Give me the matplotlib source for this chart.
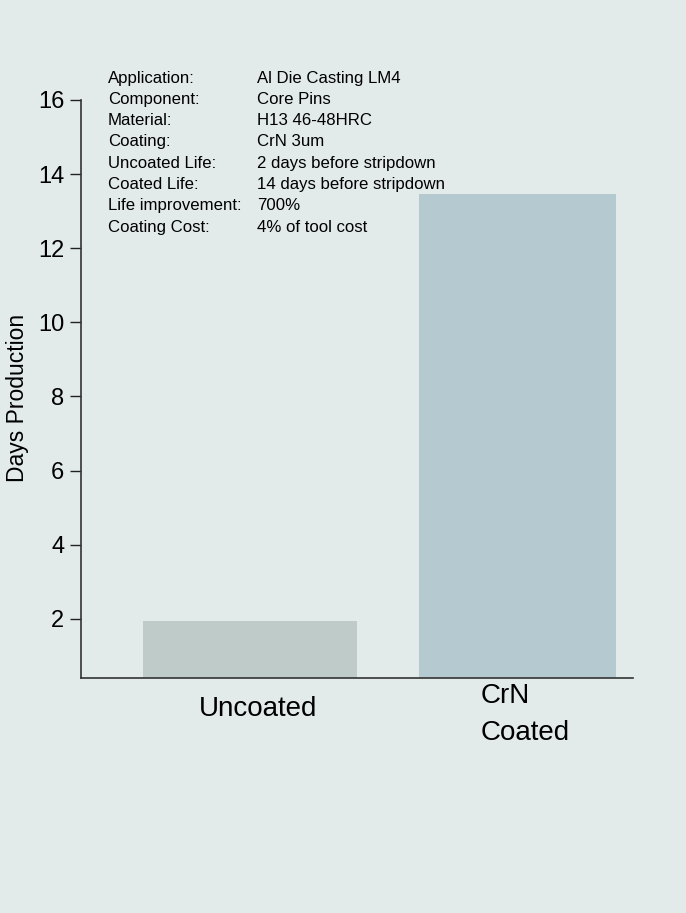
import numpy as np
import matplotlib.pyplot as plt
import matplotlib.transforms as mtransforms

categories = ["Uncoated", "CrN\nCoated"]
days = [1.95, 13.45]
bar_colors = ["#bfcbc9", "#b5c9d0"]
bar_widths = [0.80, 0.736]
y_ticks = [2, 4, 6, 8, 10, 12, 14, 16]

info_labels = ["Application:", "Component:", "Material:", "Coating:",
               "Uncoated Life:", "Coated Life:", "Life improvement:", "Coating Cost:"]
info_values = ["Al Die Casting LM4", "Core Pins", "H13 46-48HRC", "CrN 3um",
               "2 days before stripdown", "14 days before stripdown", "700%",
               "4% of tool cost"]

bg = "#e2ebea"
plt.rcParams['font.family'] = ['Liberation Sans', 'DejaVu Sans']

fig = plt.figure(figsize=(6.86, 9.13), dpi=100, facecolor=bg)
ax = fig.add_axes([81/686, 1-678/913, 552/686, 578/913], facecolor=bg)

x = np.arange(len(categories))
ax.bar(x, days, width=bar_widths, color=bar_colors, bottom=0, zorder=2)

ax.set_xlim(-0.632, 1.432)
ax.set_ylim(0.4, 16)
ax.set_yticks(y_ticks)
ax.tick_params(axis='y', labelsize=17, length=8, width=1, pad=4, color='#222222')
ax.set_xticks(x)
ax.set_xticklabels(categories, fontsize=20, linespacing=1.55)
ax.tick_params(axis='x', length=0, pad=13)
for spine in ['top', 'right']:
    ax.spines[spine].set_visible(False)
for spine in ['left', 'bottom']:
    ax.spines[spine].set_color('#333333')
    ax.spines[spine].set_linewidth(1.2)

# move labels to match the original placement
labs = ax.get_xticklabels()
labs[0].set_transform(labs[0].get_transform() + mtransforms.ScaledTranslation(0.08, 0, fig.dpi_scale_trans))
labs[1].set_horizontalalignment('left')
labs[1].set_verticalalignment('top')
labs[1].set_transform(labs[1].get_transform() + mtransforms.ScaledTranslation(-0.37, 0.13, fig.dpi_scale_trans))

fig.text(18/686, 1-398/913, "Days Production", rotation=90, fontsize=16.5,
         ha='center', va='center')

for i, (lab, val) in enumerate(zip(info_labels, info_values)):
    yy = 1 - (78 + i*21.3)/913
    fig.text(108/686, yy, lab, fontsize=12.1, ha='left', va='center')
    fig.text(257/686, yy, val, fontsize=12.1, ha='left', va='center')

fig.savefig("out.png", dpi=100, facecolor=bg)
